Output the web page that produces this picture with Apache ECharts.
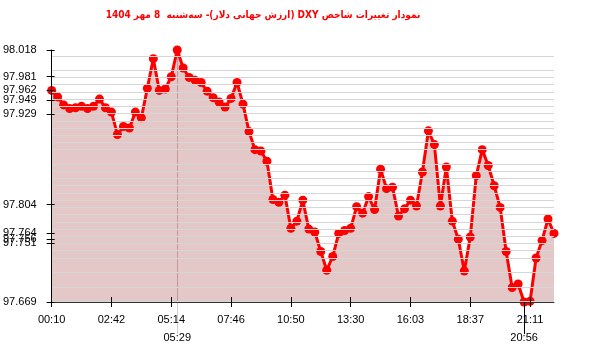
<!DOCTYPE html>
<html>
<head>
<meta charset="utf-8">
<script src="https://cdn.jsdelivr.net/npm/echarts@6/dist/echarts.min.js"></script>
<style>
html,body{margin:0;padding:0;background:#fff;}
#c{width:600px;height:352px;}
</style>
</head>
<body>
<div id="c"></div>
<script>
var titleText = 'نمودار تغییرات شاخص DXY (ارزش جهانی دلار)- سه‌شنبه  8 مهر 1404';

var times = [
'00:10','00:25','00:40','00:55','01:10','01:25','01:40','01:56','02:11','02:27','02:42',
'02:57','03:12','03:27','03:42','03:57','04:12','04:28','04:43','04:59','05:14',
'05:29','05:44','05:59','06:14','06:29','06:44','07:00','07:15','07:31','07:46',
'08:01','08:16','08:31','08:46','09:01','09:16','09:31','09:46','10:35','10:50',
'11:05','11:20','11:35','11:50','12:05','12:20','12:35','12:50','13:15','13:30',
'13:45','14:00','14:15','14:30','14:45','15:00','15:15','15:30','15:48','16:03',
'16:18','16:33','16:48','17:03','17:18','17:33','17:48','18:04','18:21','18:37',
'18:52','19:07','19:22','19:37','19:52','20:07','20:24','20:41','20:56','21:11',
'21:26','21:41','21:56','22:11'
];

var values = [
97.962,97.953,97.942,97.937,97.938,97.940,97.937,97.940,97.950,97.938,
97.932,97.901,97.912,97.910,97.932,97.924,97.965,98.006,97.962,97.964,
97.981,98.018,97.993,97.980,97.976,97.973,97.961,97.952,97.946,97.939,
97.951,97.973,97.943,97.905,97.880,97.878,97.864,97.811,97.807,97.817,
97.771,97.781,97.810,97.770,97.766,97.739,97.713,97.732,97.764,97.768,
97.771,97.801,97.792,97.815,97.797,97.853,97.826,97.828,97.788,97.798,
97.810,97.802,97.849,97.906,97.887,97.802,97.856,97.781,97.756,97.712,
97.759,97.844,97.880,97.858,97.830,97.800,97.739,97.689,97.694,97.669,
97.670,97.730,97.754,97.784,97.764
];

var yTickValues = [98.018, 97.981, 97.962, 97.949, 97.929, 97.804, 97.764, 97.756, 97.751, 97.669];
var xLabelStep = 10;

var yMin = 97.669, yMax = 98.018;
var maxIdx = 0, minIdx = 0;
values.forEach(function (v, i) {
  if (v > values[maxIdx]) maxIdx = i;
  if (v < values[minIdx]) minIdx = i;
});

var FONT = 'Liberation Sans';
var chart = echarts.init(document.getElementById('c'), null, {renderer: 'canvas'});

var option = {
  animation: false,
  backgroundColor: '#fff',
  title: {
    text: '\u202B' + titleText + '\u202C',
    left: 258,
    top: 5,
    textAlign: 'center',
    textStyle: {color: '#ff0000', fontSize: 10, fontWeight: 'bold', fontFamily: 'DejaVu Sans Condensed, DejaVu Sans'}
  },
  grid: {left: 50, right: 46, top: 50, bottom: 50},
  xAxis: [
    {
      type: 'category', data: times, boundaryGap: false,
      axisLine: {show: true, lineStyle: {color: '#333', width: 1}},
      axisTick: {show: true, interval: xLabelStep - 1, length: 5, lineStyle: {color: '#000'}},
      axisLabel: {interval: xLabelStep - 1, margin: 12, color: '#000', fontSize: 11, fontFamily: FONT},
      splitLine: {show: false}, z: 5
    },
    {
      type: 'category', data: times, boundaryGap: false, position: 'bottom',
      axisLine: {show: false},
      axisTick: {show: true, inside: true, interval: xLabelStep - 1, length: 5, lineStyle: {color: '#000'}},
      axisLabel: {show: false}, splitLine: {show: false}, z: 5
    },
    {
      type: 'category', data: times, boundaryGap: false, position: 'bottom',
      axisLine: {show: false},
      axisTick: {show: true, interval: function (i) { return i === maxIdx; }, length: 32, lineStyle: {color: '#d0d0d0'}},
      axisLabel: {interval: function (i) { return i === maxIdx; }, margin: 30, color: '#000', fontSize: 11, fontFamily: FONT},
      splitLine: {show: true, interval: function (i) { return i === maxIdx; }, lineStyle: {color: '#cfc4c4', width: 1}},
      z: 1
    },
    {
      type: 'category', data: times, boundaryGap: false, position: 'bottom',
      axisLine: {show: false},
      axisTick: {show: true, interval: function (i) { return i === minIdx; }, length: 32, lineStyle: {color: '#000'}},
      axisLabel: {interval: function (i) { return i === minIdx; }, margin: 30, color: '#000', fontSize: 11, fontFamily: FONT},
      splitLine: {show: false}, z: 5
    }
  ],
  yAxis: [
    {
      type: 'value', min: yMin, max: yMax,
      axisLine: {show: true, lineStyle: {color: '#000', width: 1}},
      axisTick: {show: true, length: 5, customValues: yTickValues, lineStyle: {color: '#000'}},
      axisLabel: {customValues: yTickValues, margin: 15, color: '#000', fontSize: 11, fontFamily: FONT,
        formatter: function (v) { return v.toFixed(3); }},
      splitLine: {show: false}, z: 5
    },
    {
      type: 'value', min: yMin, max: yMax, position: 'left',
      axisLine: {show: false},
      axisTick: {show: true, inside: true, length: 3, customValues: yTickValues, lineStyle: {color: '#000'}},
      axisLabel: {show: false}, splitLine: {show: false}, z: 5
    }
  ],
  series: [
    {
      name: 'levels', type: 'line', data: values, z: 1, silent: true,
      showSymbol: false, lineStyle: {opacity: 0}, tooltip: {show: false},
      markLine: {
        silent: true, symbol: ['none', 'none'], label: {show: false},
        lineStyle: {color: '#d6d6d6', width: 1, type: 'solid'},
        animation: false,
        data: values.map(function (v) { return {yAxis: v}; })
      }
    },
    {
      name: 'DXY', type: 'line', data: values, z: 3,
      symbol: 'circle', symbolSize: 9, showSymbol: true, showAllSymbol: true,
      itemStyle: {color: '#ff0000'},
      lineStyle: {color: '#ff0000', width: 3},
      areaStyle: {color: 'rgba(150,40,40,0.26)', opacity: 1}
    }
  ]
};
chart.setOption(option);
</script>
</body>
</html>
